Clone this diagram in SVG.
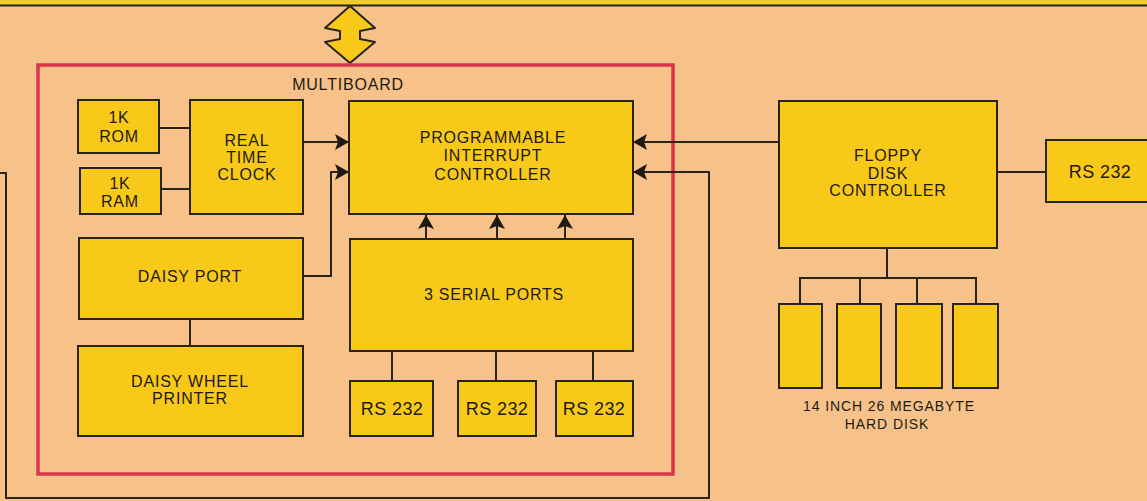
<svg xmlns="http://www.w3.org/2000/svg" width="1147" height="501" viewBox="0 0 1147 501">
<style>
.box{fill:#F8C918;stroke:#2a2418;stroke-width:2}
.ln{fill:none;stroke:#2a2418;stroke-width:2}
.t{font-family:"Liberation Sans",Arial,sans-serif;font-size:16px;fill:#1e1a12;text-anchor:middle;letter-spacing:0.8px}
.rs{font-size:18px;letter-spacing:0.4px}
.sm{font-size:14px;letter-spacing:0.9px}
</style>
<defs>
<marker id="ah" viewBox="0 0 14 16" refX="14" refY="8" markerWidth="14" markerHeight="16" markerUnits="userSpaceOnUse" orient="auto">
<path d="M0,0 L14,8 L0,16 L3,8 Z" fill="#1e1a12"/>
</marker>
</defs>
<rect x="0" y="0" width="1147" height="501" fill="#F6C28A"/>
<rect x="0" y="0" width="1147" height="5" fill="#F2CC2A"/>
<line x1="0" y1="5.5" x2="1147" y2="5.5" stroke="#2a2418" stroke-width="2"/>

<g id="bus-arrow">
<path d="M350,6 L375,28 L360,31 L360,39 L375,42 L350,63 L325,42 L340,39 L340,31 L325,28 Z" fill="#F8C918" stroke="#2a2418" stroke-width="2" stroke-linejoin="round"/>
</g>

<g id="multiboard">
<rect x="38" y="65" width="635" height="409" fill="none" stroke="#D9364B" stroke-width="3.5"/>
<text class="t" x="348" y="90">MULTIBOARD</text>
</g>

<g id="connectors">
<line class="ln" x1="159" y1="128" x2="190" y2="128"/>
<line class="ln" x1="161" y1="189" x2="190" y2="189"/>
<line class="ln" x1="303" y1="142" x2="349" y2="142" marker-end="url(#ah)"/>
<polyline class="ln" points="303,276 331,276 331,172 349,172" marker-end="url(#ah)"/>
<line class="ln" x1="190" y1="319" x2="190" y2="346"/>
<line class="ln" x1="426" y1="238" x2="426" y2="215" marker-end="url(#ah)"/>
<line class="ln" x1="497" y1="238" x2="497" y2="215" marker-end="url(#ah)"/>
<line class="ln" x1="565" y1="238" x2="565" y2="215" marker-end="url(#ah)"/>
<line class="ln" x1="392" y1="351" x2="392" y2="381"/>
<line class="ln" x1="496" y1="351" x2="496" y2="381"/>
<line class="ln" x1="593" y1="351" x2="593" y2="381"/>
<line class="ln" x1="779" y1="142" x2="633" y2="142" marker-end="url(#ah)"/>
<polyline class="ln" points="0,173 6,173 6,498 709,498 709,172 633,172" marker-end="url(#ah)"/>
<line class="ln" x1="997" y1="172" x2="1046" y2="172"/>
<line class="ln" x1="887" y1="248" x2="887" y2="278"/>
<polyline class="ln" points="800,304 800,278 976,278 976,304"/>
<line class="ln" x1="860" y1="278" x2="860" y2="304"/>
<line class="ln" x1="917" y1="278" x2="917" y2="304"/>
</g>

<g id="rom">
<rect class="box" x="78" y="100" width="81" height="53"/>
<text class="t" x="119" y="123">1K</text>
<text class="t" x="119" y="142">ROM</text>
</g>
<g id="ram">
<rect class="box" x="80" y="168" width="81" height="46"/>
<text class="t" x="120" y="189">1K</text>
<text class="t" x="120" y="207">RAM</text>
</g>
<g id="rtc">
<rect class="box" x="190" y="100" width="113" height="114"/>
<text class="t" x="247" y="146">REAL</text>
<text class="t" x="247" y="163">TIME</text>
<text class="t" x="247" y="180">CLOCK</text>
</g>
<g id="pic">
<rect class="box" x="349" y="101" width="284" height="113"/>
<text class="t" x="493" y="143">PROGRAMMABLE</text>
<text class="t" x="493" y="161">INTERRUPT</text>
<text class="t" x="493" y="180">CONTROLLER</text>
</g>
<g id="daisy-port">
<rect class="box" x="79" y="238" width="224" height="81"/>
<text class="t" x="190" y="282">DAISY PORT</text>
</g>
<g id="serial-ports">
<rect class="box" x="350" y="239" width="283" height="112"/>
<text class="t" x="494" y="300">3 SERIAL PORTS</text>
</g>
<g id="printer">
<rect class="box" x="78" y="346" width="225" height="90"/>
<text class="t" x="190" y="387">DAISY WHEEL</text>
<text class="t" x="190" y="404">PRINTER</text>
</g>
<g id="rs232-1">
<rect class="box" x="350" y="381" width="83" height="55"/>
<text class="t rs" x="392" y="415">RS 232</text>
</g>
<g id="rs232-2">
<rect class="box" x="458" y="381" width="78" height="55"/>
<text class="t rs" x="497" y="415">RS 232</text>
</g>
<g id="rs232-3">
<rect class="box" x="556" y="381" width="77" height="55"/>
<text class="t rs" x="594" y="415">RS 232</text>
</g>
<g id="fdc">
<rect class="box" x="779" y="101" width="218" height="147"/>
<text class="t" x="888" y="161">FLOPPY</text>
<text class="t" x="888" y="179">DISK</text>
<text class="t" x="888" y="196">CONTROLLER</text>
</g>
<g id="rs232-4">
<rect class="box" x="1046" y="140" width="110" height="62"/>
<text class="t rs" x="1100" y="178">RS 232</text>
</g>
<g id="hard-disks">
<rect class="box" x="779" y="304" width="43" height="84"/>
<rect class="box" x="837" y="304" width="44" height="84"/>
<rect class="box" x="896" y="304" width="46" height="84"/>
<rect class="box" x="953" y="304" width="45" height="84"/>
<text class="t sm" x="889" y="411">14 INCH 26 MEGABYTE</text>
<text class="t sm" x="887" y="429">HARD DISK</text>
</g>
</svg>
